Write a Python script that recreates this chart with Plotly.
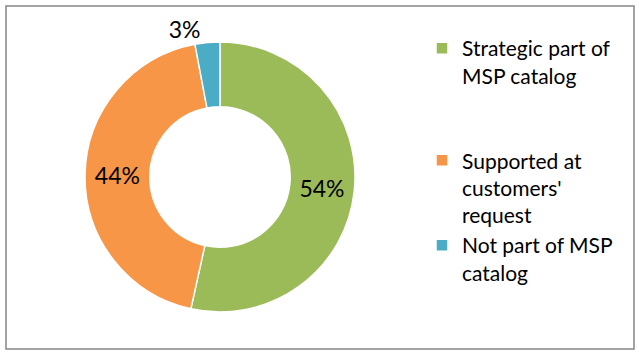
import plotly.graph_objects as go

labels = ["Strategic part of<br>MSP catalog<br> <br> ", "Supported at<br>customers'<br>request", "Not part of MSP<br>catalog"]
values = [54, 44, 3]
colors = ["#9BBB59", "#F79646", "#4BACC6"]
text_positions = ["inside", "inside", "outside"]

W, H = 639, 359

fig = go.Figure(go.Pie(
    labels=labels, values=values, hole=0.52, sort=False, direction="clockwise", rotation=0,
    domain=dict(x=[85 / W, 355 / W], y=[1 - 312 / H, 1 - 42 / H]),
    marker=dict(colors=colors, line=dict(color="white", width=1.5)),
    texttemplate="%{value}%", textposition=text_positions,
    insidetextorientation="horizontal",
    textfont=dict(size=23, color="black", family="Lato"),
    hoverinfo="label+value",
))

fig.update_layout(
    width=W, height=H,
    margin=dict(l=0, r=0, t=0, b=0),
    paper_bgcolor="white", plot_bgcolor="white",
    font=dict(family="Lato", color="black", size=21),
    legend=dict(x=422 / W, y=1 - 28 / H, xanchor="left", yanchor="top",
                valign="top", font=dict(size=21), itemwidth=30,
                bgcolor="rgba(0,0,0,0)"),
    shapes=[dict(type="rect", xref="paper", yref="paper",
                 x0=6 / W, x1=634 / W, y0=1 - 349 / H, y1=1 - 6 / H,
                 line=dict(color="#868686", width=1.5), layer="below")],
)

fig.write_html("out.html", config={"displayModeBar": False},
               post_script="document.body.style.margin='0px';")
